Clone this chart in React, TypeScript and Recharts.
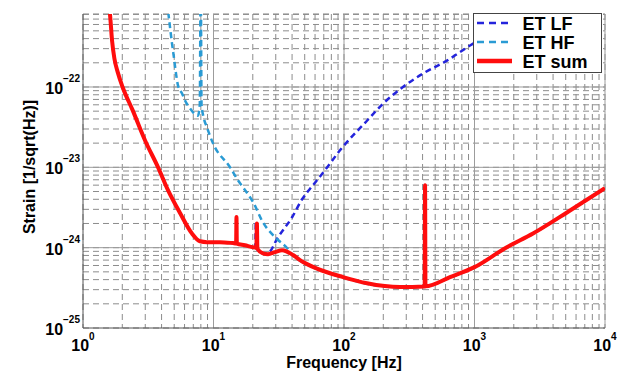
import React from 'react';
import {
  LineChart,
  Line,
  XAxis,
  YAxis,
  CartesianGrid,
  Legend
} from 'recharts';

// frequency [Hz] and strain [1/sqrt(Hz)]
const sumFreq = [1.59, 1.61, 1.67, 1.74, 1.85, 2.01, 2.4, 2.99, 3.76, 4.48, 5.54, 6.84, 7.88, 8.9, 11.2, 14.1, 14.9, 15.0, 15.1, 17.4, 20.1, 21.3, 21.5, 21.7, 23.9, 26.2, 29.6, 33.5, 40.7, 46, 52.1, 62.1, 98.3, 150, 269, 415, 418, 421, 649, 1000, 1742, 2807, 5395, 10000];
const sumStrain = [9.5e-22, 8.0e-22, 3.78e-22, 2.26e-22, 1.51e-22, 1.0e-22, 5.15e-23, 2.16e-23, 1.0e-23, 5.2e-24, 2.7e-24, 1.5e-24, 1.2e-24, 1.17e-24, 1.17e-24, 1.14e-24, 1.13e-24, 2.4e-24, 1.12e-24, 1.07e-24, 1.01e-24, 1.0e-24, 2.0e-24, 0.97e-24, 8.5e-25, 8.3e-25, 8.8e-25, 9.3e-25, 8.1e-25, 7.0e-25, 6.24e-25, 5.48e-25, 4.3e-25, 3.6e-25, 3.23e-25, 3.28e-25, 6.0e-24, 3.3e-25, 4.3e-25, 5.72e-25, 1.0e-24, 1.5e-24, 2.9e-24, 5.5e-24];

const lfFreq = [1.59, 1.61, 1.67, 1.74, 1.85, 2.01, 2.4, 2.99, 3.76, 4.48, 5.54, 6.84, 7.88, 8.9, 11.2, 14.1, 14.9, 15.0, 15.1, 17.4, 20.1, 20.9, 21.1, 21.3, 23.9, 26.2, 31.2, 40, 47.7, 57.9, 71.5, 93.2, 150, 199, 283, 403, 615, 924, 1300];
const lfStrain = [9.5e-22, 8.0e-22, 3.78e-22, 2.26e-22, 1.51e-22, 1.0e-22, 5.15e-23, 2.16e-23, 1.0e-23, 5.2e-24, 2.7e-24, 1.5e-24, 1.2e-24, 1.17e-24, 1.17e-24, 1.14e-24, 1.13e-24, 2.4e-24, 1.12e-24, 1.07e-24, 1.01e-24, 1.0e-24, 2.1e-24, 0.99e-24, 8.5e-25, 8.6e-25, 1.35e-24, 2.39e-24, 4.0e-24, 6.0e-24, 9.2e-24, 1.63e-23, 3.8e-23, 6.2e-23, 1.0e-22, 1.47e-22, 2.13e-22, 3.28e-22, 4.6e-22];

const hfFreq = [4.5, 4.56, 4.81, 4.98, 5.16, 5.35, 5.74, 6.05, 6.61, 7.09, 7.6, 7.85, 7.98, 8.1, 8.4, 8.91, 9.91, 13.4, 15.4, 18.1, 20.1, 23.9, 29.6, 36.6, 40.7, 46, 52.1, 62.1, 98.3, 150, 269, 418, 649, 1000, 1742, 2807, 5395, 10000];
const hfStrain = [8.5e-22, 7.1e-22, 3.47e-22, 2.3e-22, 1.47e-22, 1.04e-22, 8.3e-23, 6.8e-23, 5.4e-23, 4.7e-23, 4.4e-23, 6.0e-23, 3.0e-21, 6.0e-23, 4.2e-23, 3.14e-23, 1.99e-23, 1.0e-23, 6.9e-24, 4.8e-24, 3.7e-24, 2.07e-24, 1.35e-24, 9.9e-25, 8.0e-25, 6.9e-25, 6.2e-25, 5.45e-25, 4.25e-25, 3.55e-25, 3.2e-25, 3.25e-25, 4.25e-25, 5.65e-25, 9.9e-25, 1.49e-24, 2.88e-24, 5.45e-24];

// axis ticks (labels only on decades), grid lines on every tick
const xTicks = [1, 2, 3, 4, 5, 6, 7, 8, 9, 10, 20, 30, 40, 50, 60, 70, 80, 90, 100, 200, 300, 400, 500, 600, 700, 800, 900, 1000, 2000, 3000, 4000, 5000, 6000, 7000, 8000, 9000, 10000];
const yTicks = [1e-25, 2e-25, 3e-25, 4e-25, 5e-25, 6e-25, 7e-25, 8e-25, 9e-25, 1e-24, 2e-24, 3e-24, 4e-24, 5e-24, 6e-24, 7e-24, 8e-24, 9e-24, 1e-23, 2e-23, 3e-23, 4e-23, 5e-23, 6e-23, 7e-23, 8e-23, 9e-23, 1e-22, 2e-22, 3e-22, 4e-22, 5e-22, 6e-22, 7e-22, 8e-22];
const xMajor = [10, 100, 1000, 10000];
const yMajor = [1e-24, 1e-23, 1e-22];
const yTop = 8.1e-22;

const LF_COLOR = '#2424dc';
const HF_COLOR = '#2a9bd4';
const SUM_COLOR = '#ff0d0d';
const FONT = '"Liberation Sans", Arial, Helvetica, sans-serif';

const legendItems = [
  { name: 'ET LF', color: LF_COLOR, dash: '7 5', width: 2.5 },
  { name: 'ET HF', color: HF_COLOR, dash: '7 5', width: 2.5 },
  { name: 'ET sum', color: SUM_COLOR, dash: undefined, width: 4.5 }
];

const zip = (f: number[], s: number[]) => f.map((v, i) => ({ f: v, s: s[i] }));
const sumData = zip(sumFreq, sumStrain);
const lfData = zip(lfFreq, lfStrain);
const hfData = zip(hfFreq, hfStrain);

const decade = (v: number) => {
  const e = Math.log10(v);
  const r = Math.round(e);
  return Math.abs(e - r) < 1e-6 ? r : null;
};

const XTick = (props: any) => {
  const { x, y, payload } = props;
  const e = decade(payload.value);
  if (e === null) return <g />;
  return (
    <text x={x} y={y + 23} textAnchor="middle" fontFamily={FONT} fontWeight="bold" fontSize={16} fill="#000">
      <tspan>10</tspan>
      <tspan dy={-11} fontSize={10}>{e}</tspan>
    </text>
  );
};

const YTick = (props: any) => {
  const { x, y, payload } = props;
  const e = decade(payload.value);
  if (e === null) return <g />;
  return (
    <text x={x - 3} y={y + 7} textAnchor="end" fontFamily={FONT} fontWeight="bold" fontSize={16} fill="#000">
      <tspan>10</tspan>
      <tspan dy={-12} fontSize={10}>{'\u2212' + Math.abs(e)}</tspan>
    </text>
  );
};

const LegendBox = () => (
  <div style={{ width: 129, height: 60, border: '1px solid #444', background: '#fff', boxSizing: 'border-box' }}>
    <svg width={127} height={58}>
      {legendItems.map((it, i) => {
        const cy = 9 + i * 19;
        return (
          <g key={it.name}>
            <line x1={3} x2={38} y1={cy} y2={cy} stroke={it.color} strokeWidth={it.width} strokeDasharray={it.dash} />
            <text x={48.5} y={cy + 6.5} fontFamily={FONT} fontWeight="bold" fontSize={18} fill="#000">
              {it.name}
            </text>
          </g>
        );
      })}
    </svg>
  </div>
);

const App = () => {
  return (
    <div style={{ position: 'absolute', left: 0, top: 0, width: 629, height: 372, background: '#fff' }}>
      <LineChart width={629} height={372} margin={{ top: 14, right: 24, bottom: 0, left: 0 }}>
        <CartesianGrid stroke="#8c8c8c" strokeDasharray="6 4" />
        <CartesianGrid stroke="#9c9c9c" horizontalValues={yMajor} verticalValues={xMajor} />
        <XAxis
          dataKey="f"
          type="number"
          scale="log"
          domain={[1, 10000]}
          ticks={xTicks}
          interval={0}
          allowDataOverflow
          height={44}
          tickSize={0}
          tickMargin={0}
          tick={(p: any) => <XTick {...p} />}
          axisLine={{ stroke: '#555' }}
          label={{
            value: 'Frequency [Hz]',
            position: 'insideBottom',
            offset: 4,
            style: { fontFamily: FONT, fontWeight: 'bold', fontSize: 16, fill: '#000' }
          }}
        />
        <YAxis
          type="number"
          scale="log"
          domain={[1e-25, yTop]}
          ticks={yTicks}
          interval={0}
          allowDataOverflow
          width={83}
          tickSize={0}
          tickMargin={0}
          tick={(p: any) => <YTick {...p} />}
          axisLine={{ stroke: '#555' }}
          label={{
            content: (p: any) => {
              const vb = p.viewBox;
              const cx = vb.x + 35;
              const cy = vb.y + vb.height / 2 - 4;
              return (
                <text
                  x={cx}
                  y={cy}
                  transform={`rotate(-90, ${cx}, ${cy})`}
                  textAnchor="middle"
                  fontFamily={FONT}
                  fontWeight="bold"
                  fontSize={16}
                  fill="#000"
                >
                  Strain [1/sqrt(Hz)]
                </text>
              );
            }
          }}
        />
        <Line
          data={lfData}
          dataKey="s"
          type="monotoneX"
          stroke={LF_COLOR}
          strokeWidth={2.5}
          strokeDasharray="6 4"
          dot={false}
          isAnimationActive={false}
        />
        <Line
          data={hfData}
          dataKey="s"
          type="monotoneX"
          stroke={HF_COLOR}
          strokeWidth={2.5}
          strokeDasharray="6 4"
          dot={false}
          isAnimationActive={false}
        />
        <Line
          data={sumData}
          dataKey="s"
          type="monotoneX"
          stroke={SUM_COLOR}
          strokeWidth={4}
          dot={false}
          isAnimationActive={false}
        />
        <Legend
          layout="horizontal"
          verticalAlign="middle"
          align="center"
          content={() => <LegendBox />}
          wrapperStyle={{ left: 473, top: 13, width: 129, height: 60 }}
        />
      </LineChart>
    </div>
  );
};

export default App;
